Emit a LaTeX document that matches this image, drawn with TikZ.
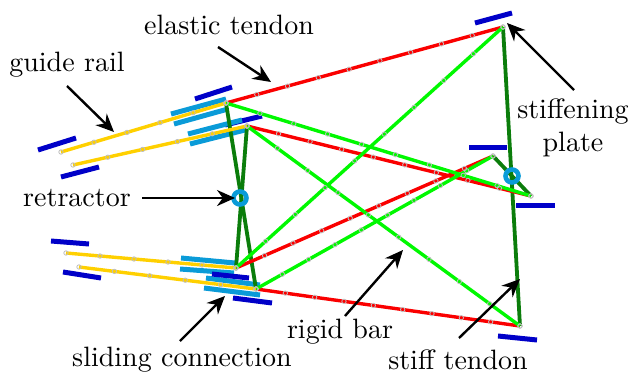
\documentclass[tikz,border=0pt]{standalone}
\usetikzlibrary{calc,arrows.meta}
\definecolor{plateblue}{HTML}{0000C8}
\definecolor{slidecyan}{HTML}{0A9BD8}
\definecolor{railyellow}{HTML}{FFD000}
\definecolor{stiffgreen}{HTML}{0B7D0B}
\definecolor{bargreen}{HTML}{00F800}
\definecolor{tendonred}{HTML}{FA0000}
\definecolor{markgray}{HTML}{BEBEBE}
\newcommand{\markers}[3]{%
  \pgfmathtruncatemacro{\nseg}{#3}%
  \foreach \k in {0,...,\nseg}{%
    \draw[markcircle] ($(#1)!{\k/\nseg}!(#2)$) circle[radius=2.2];}}
\tikzset{
  markcircle/.style={draw=markgray,line width=0.8pt},
  tendonline/.style={draw=tendonred,line width=3.4pt},
  barline/.style={draw=bargreen,line width=3.4pt},
  stiffline/.style={draw=stiffgreen,line width=3.8pt},
  railline/.style={draw=railyellow,line width=3.4pt},
  plateline/.style={draw=plateblue,line width=5pt},
  slideline/.style={draw=slidecyan,line width=5pt},
  retring/.style={circle,draw=slidecyan,line width=4.6pt,minimum size=13pt,inner sep=0pt},
  callout/.style={-{Stealth[length=18pt,width=16pt]},line width=2.4pt,black},
  lbl/.style={font=\fontsize{10}{11.8}\selectfont,scale=2.8,transform shape,inner sep=0pt,text=black,align=center}
}
\begin{document}
\begin{tikzpicture}[x=1pt,y=-1pt]
\useasboundingbox (0,0) rectangle (632,375);
% joints
\coordinate (A) at (226,103);
\coordinate (B) at (247,126);
\coordinate (C) at (236,268);
\coordinate (D) at (256,289);
\coordinate (E) at (503,27);
\coordinate (F) at (520,326);
\coordinate (G) at (493,156);
\coordinate (H) at (531,196);
\coordinate (R1s) at (61,152);
\coordinate (R2s) at (73,165);
\coordinate (R3s) at (66,253);
\coordinate (R4s) at (79,267);
% stiffening plates
\draw[plateline] (195,99) coordinate (p1a) -- (232,87) coordinate (p1b);
\draw[plateline] (225,125) coordinate (p2a) -- (262,116) coordinate (p2b);
\draw[plateline] (38,150) coordinate (p3a) -- (76,138) coordinate (p3b);
\draw[plateline] (61,177) coordinate (p4a) -- (99,167) coordinate (p4b);
\draw[plateline] (51,241) coordinate (p5a) -- (89,244) coordinate (p5b);
\draw[plateline] (63,272) coordinate (p6a) -- (101,278) coordinate (p6b);
\draw[plateline] (475,23) coordinate (p9a) -- (512,13) coordinate (p9b);
\draw[plateline] (469,147) coordinate (p10a) -- (507,147) coordinate (p10b);
\draw[plateline] (516,205) coordinate (p11a) -- (555,205) coordinate (p11b);
\draw[plateline] (498,336) coordinate (p12a) -- (537,340) coordinate (p12b);
% sliding connections
\draw[slideline] (171,114) coordinate (s1a) -- (226,99) coordinate (s1b);
\draw[slideline] (174,124) coordinate (s2a) -- (228,109) coordinate (s2b);
\draw[slideline] (188,134) coordinate (s3a) -- (242,120) coordinate (s3b);
\draw[slideline] (190,144) coordinate (s4a) -- (245,130) coordinate (s4b);
\draw[slideline] (181,258) coordinate (s5a) -- (235,263) coordinate (s5b);
\draw[slideline] (180,269) coordinate (s6a) -- (234,273) coordinate (s6b);
\draw[slideline] (206,278) coordinate (s7a) -- (260,285) coordinate (s7b);
\draw[slideline] (204,288) coordinate (s8a) -- (260,295) coordinate (s8b);
\draw[plateline] (212,274) coordinate (p7a) -- (249,278) coordinate (p7b);
\draw[plateline] (233,298) coordinate (p8a) -- (272,303) coordinate (p8b);
% stiff tendons
\draw[stiffline] (A) -- (D);
\draw[stiffline] (B) -- (C);
\draw[stiffline] (E) -- (F);
\draw[stiffline] (G) -- (H);
% elastic tendons
\draw[tendonline] (A) -- (E);
\draw[tendonline] (B) -- (H);
\draw[tendonline] (C) -- (G);
\draw[tendonline] (D) -- (F);
% rigid bars
\draw[barline] (A) -- (H);
\draw[barline] (B) -- (F);
\draw[barline] (C) -- (E);
\draw[barline] (D) -- (G);
% guide rails
\draw[railline] (R1s) -- (A);
\draw[railline] (R2s) -- (B);
\draw[railline] (R3s) -- (C);
\draw[railline] (R4s) -- (D);
% markers
\markers{A}{E}{9}\markers{B}{H}{9}\markers{C}{G}{9}\markers{D}{F}{9}
\markers{A}{H}{9}\markers{B}{F}{9}\markers{C}{E}{9}\markers{D}{G}{9}
\markers{R1s}{A}{5}\markers{R2s}{B}{5}\markers{R3s}{C}{5}\markers{R4s}{D}{5}
% retractors
\node[retring] (ret1) at (240,198) {};
\node[retring] (ret2) at (512,176) {};
% labels
\node[lbl] (lelastic) at (229,25) {elastic tendon};
\node[lbl] (lguide) at (67,65) {guide rail};
\node[lbl] (lret) at (77,198) {retractor};
\node[lbl] (lstiffp) at (573,128) {stiffening\\plate};
\node[lbl] (lrigid) at (340,332) {rigid bar};
\node[lbl] (lslide) at (182,360) {sliding connection};
\node[lbl] (lstiff) at (458,360) {stiff tendon};
% callouts
\coordinate (t1) at (218,47); \coordinate (h1) at (271,82);
\coordinate (t2) at (67,86); \coordinate (h2) at (114,132);
\coordinate (t3) at (142,198); \coordinate (h3) at (235,198);
\coordinate (t4) at (574,90); \coordinate (h4) at (507,23);
\coordinate (t5) at (345,316); \coordinate (h5) at (403,250);
\coordinate (t6) at (180,341); \coordinate (h6) at (225,296);
\coordinate (t7) at (459,338); \coordinate (h7) at (520,279);
\foreach \i in {1,...,7}{\draw[callout] (t\i) -- (h\i);}
\end{tikzpicture}
\end{document}
